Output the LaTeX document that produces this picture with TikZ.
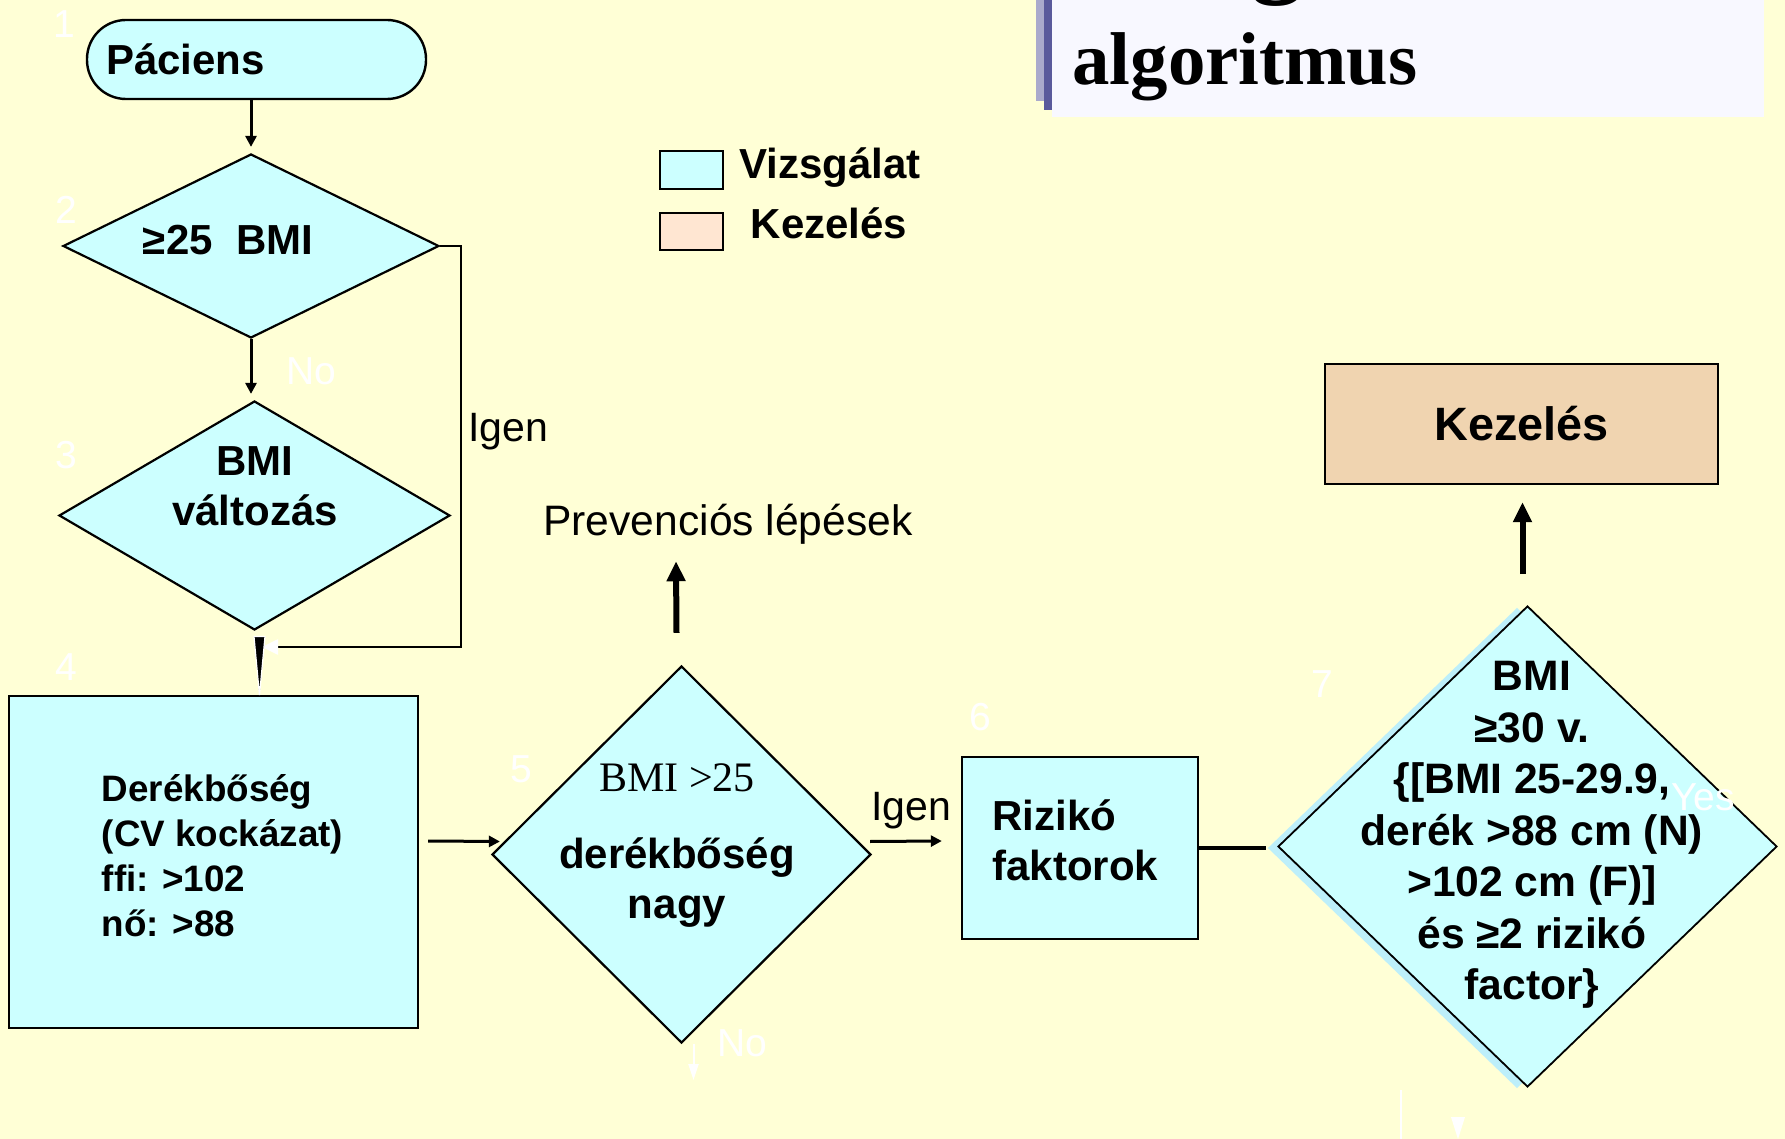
\documentclass[tikz,border=0pt]{standalone}
\usepackage{fontspec}
\setmainfont{Liberation Sans}
\newfontfamily\timesfont{Liberation Serif}
\usetikzlibrary{shapes.geometric,arrows.meta}

\definecolor{slidebg}{HTML}{FFFFD6}
\definecolor{testcyan}{HTML}{CCFFFF}
\definecolor{ghostcyan}{HTML}{BDEFFA}
\definecolor{treattan}{HTML}{F0D4B0}
\definecolor{treatpeach}{HTML}{FFE6D2}
\definecolor{titlebg}{HTML}{F8F8FF}
\definecolor{barlight}{HTML}{AAAACC}
\definecolor{bardark}{HTML}{5A5A9C}

\tikzset{
    testbox/.style={draw, line width=1.2pt, fill=testcyan, inner sep=0pt},
    decision/.style={diamond, draw, line width=1.1pt, fill=testcyan, inner sep=0pt},
    boldtxt/.style={font=\bfseries\fontsize{21}{25}\selectfont},
    plaintxt/.style={font=\fontsize{20.5}{25}\selectfont},
    ghosttxt/.style={text=white, font=\fontsize{19.5}{24}\selectfont},
    arr/.style={line width=1.5pt, -{Triangle[length=5.5pt,width=5.5pt]}},
    thickarr/.style={line width=3pt, -{Triangle[length=10pt,width=9pt]}}
}

\begin{document}
\begin{tikzpicture}[x=0.5pt, y=-0.5pt]
    % Background
    \fill[slidebg] (0,0) rectangle (1785,1139);
    \useasboundingbox (0,0) rectangle (1785,1139);

    % Title
    \fill[titlebg] (1052,0) rectangle (1764,117);
    \fill[barlight] (1036,0) rectangle (1044,101);
    \fill[bardark] (1044,0) rectangle (1052,110);
    \begin{scope}
        \clip (1052,0) rectangle (1764,117);
        \node[anchor=base, inner sep=0pt, font=\timesfont\bfseries\fontsize{52}{56}\selectfont] (titleg) at (1277,-16) {g};
    \end{scope}
    \node[anchor=base west, inner sep=0pt, font=\timesfont\bfseries\fontsize{37.4}{42}\selectfont] (title) at (1072,85) {algoritmus};

    % Legend
    \node[draw, line width=1pt, fill=testcyan, minimum width=31.5pt, minimum height=19pt, inner sep=0pt] (legtest) at (691.5,170) {};
    \node[draw, line width=1pt, fill=treatpeach, minimum width=31.5pt, minimum height=18.5pt, inner sep=0pt] (legtreat) at (691.5,231.5) {};
    \node[boldtxt, anchor=base] (legtesttxt) at (830,179) {Vizsgálat};
    \node[boldtxt, anchor=base] (legtreattxt) at (829,239) {Kezelés};

    % Left column
    \node[testbox, rounded corners=19.5pt, minimum height=39.5pt, text width=150.5pt, inner xsep=9.5pt, align=left, boldtxt] (pac) at (256.5,59.5) {Páciens};
    \node[decision, minimum width=188pt, minimum height=92pt] (d2) at (251,246) {};
    \node[boldtxt] (d2txt) at (228,240) {≥25\ \ BMI};
    \node[decision, minimum width=195.5pt, minimum height=114.5pt] (d3) at (254.5,515.5) {};
    \node[boldtxt, align=center] (d3txt) at (255,486) {BMI\\változás};
    \node[testbox, minimum width=204.5pt, minimum height=166pt] (waist) at (213.5,862) {};
    \node[align=left, font=\bfseries\fontsize{18.4}{22.5}\selectfont] (waisttxt) at (222.5,856) {Derékbőség\\(CV kockázat)\\ffi: >102\\nő: >88};

    % Middle
    \node[decision, minimum width=189.5pt, minimum height=188.5pt] (d5) at (681.5,854.5) {};
    \node[boldtxt, align=center] (d5txt) at (677,846) {{\timesfont\mdseries BMI >25}\\[13.5pt]derékbőség\\nagy};
    \node[anchor=base, inner sep=0pt, font=\fontsize{21.3}{25}\selectfont] (prev) at (728,535) {Prevenciós lépések};
    \node[testbox, minimum width=118pt, minimum height=91pt] (risk) at (1080,848) {};
    \node[boldtxt, align=left] (risktxt) at (1075.5,840) {Rizikó\\faktorok};

    % Right
    \node[decision, draw=none, fill=ghostcyan, minimum width=249.5pt, minimum height=240.5pt] (ghost) at (1517,848) {};
    \node[decision, line width=0.9pt, minimum width=249.5pt, minimum height=240.5pt] (d7) at (1527.5,846.5) {};
    \node[align=center, font=\bfseries\fontsize{21.3}{25.75}\selectfont] (d7txt) at (1532,835) {BMI\\≥30 v.\\\{[BMI 25-29.9,\\derék >88 cm (N)\\>102 cm (F)]\\és ≥2 rizikó\\factor\}};
    \node[testbox, fill=treattan, minimum width=196.5pt, minimum height=60pt, font=\bfseries\fontsize{23.4}{28}\selectfont] (treat) at (1521.5,424) {Kezelés};

    % Labels
    \node[plaintxt, anchor=base west, inner sep=0pt] (yes1) at (468,442) {Igen};
    \node[plaintxt, anchor=base, inner sep=0pt] (yes2) at (911,820) {Igen};

    % White step numbers and labels
    \foreach \num/\px/\py in {1/64/24, 2/66/210, 3/66/455, 4/66/667, 5/521/769, 6/980/717, 7/1322/684}
        \node[ghosttxt] (step\num) at (\px,\py) {\num};
    \node[ghosttxt] (no1) at (311,371) {No};
    \node[ghosttxt] (no2) at (742,1043) {No};
    \node[ghosttxt] (yes3) at (1703,797) {Yes};

    % Connectors
    \coordinate (loopend) at (262,647);
    \path (d3.south |- waist.north) ++(5,7) coordinate (wedgeend);
    \path (d3.south) ++(5,0) coordinate (wedgestart);
    \draw[arr, shorten >=3pt] (pac.south -| d2.north) -- (d2.north);
    \draw[arr, shorten >=3pt] (d2.south) -- (d2.south |- d3.north);
    \draw[line width=1.3pt, -{Triangle[length=8pt,width=7.5pt,color=white]}] (d2.east) -- ++(21,0) |- (loopend);
    \draw[white, line width=0.6pt, -{Triangle[length=33pt,width=6pt,fill=black]}, shorten <=3.5pt] (wedgestart) -- (wedgeend);
    \draw[arr] ([shift={(9,-21)}]waist.east) -- ([shift={(9,-13)}]d5.west);
    \draw[arr] ([shift={(-2,-13)}]d5.east) -- ([shift={(-19,-7)}]risk.west);
    \draw[line width=1.6pt] (risk.east) -- (ghost.west);
    \draw[thickarr] ([shift={(-5,-32)}]d5.north) -- ([shift={(-52,17)}]prev.south);
    \draw[thickarr] ([shift={(-5,-31)}]d7.north) -- ([shift={(1,17)}]treat.south);

    % White remnants
    \draw[white, line width=1pt, -{Triangle[length=8pt,width=5pt]}] ([shift={(12,0)}]d5.south) -- ++(0,36);
    \draw[white, line width=1.2pt] (1401,1090) -- (1401,1139);
    \fill[white] (1451,1117) -- (1465,1117) -- (1458,1139) -- cycle;
\end{tikzpicture}
\end{document}
